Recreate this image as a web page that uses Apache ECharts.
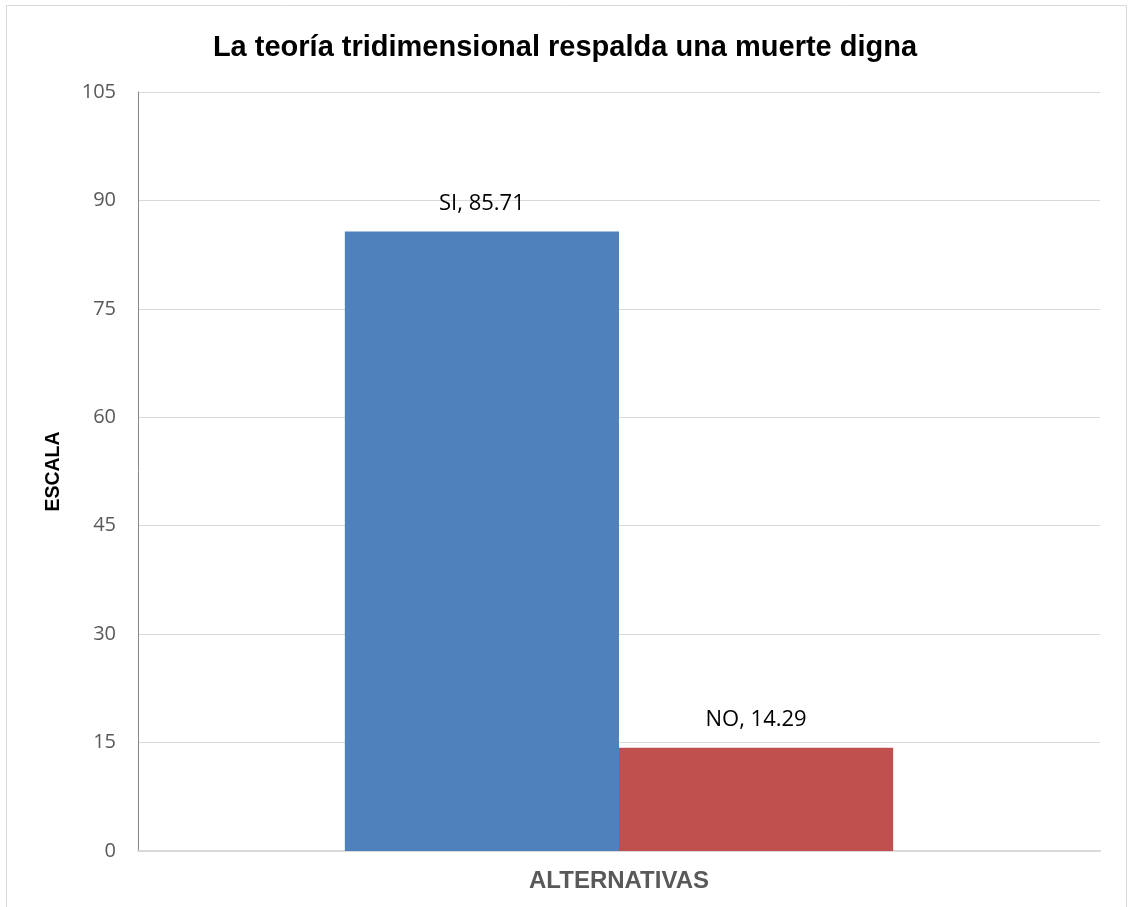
<!DOCTYPE html>
<html>
<head>
<meta charset="UTF-8">
<title>La teoría tridimensional respalda una muerte digna</title>
<script src="https://cdn.jsdelivr.net/npm/echarts@6/dist/echarts.min.js"></script>
<style>
  html, body { margin: 0; padding: 0; background: #fff; }
  #chart { width: 1130px; height: 907px; }
</style>
</head>
<body>
<div id="chart"></div>
<script>
var categories = ['ALTERNATIVAS'];
var seriesNames = ['SI', 'NO'];
var siValues = [85.71];
var noValues = [14.29];
var colors = ['#4F81BD', '#C0504D'];

var chart = echarts.init(document.getElementById('chart'));

var labelStyle = {
  show: true,
  position: 'top',
  distance: 17,
  formatter: '{a}, {c}',
  fontFamily: 'Open Sans',
  fontSize: 22,
  color: '#000'
};

var option = {
  animation: false,
  graphic: [{
    type: 'rect',
    shape: { x: 6.5, y: 5.5, width: 1120, height: 910 },
    style: { fill: 'none', stroke: '#D9D9D9', lineWidth: 1 },
    silent: true
  }],
  title: {
    text: 'La teoría tridimensional respalda una muerte digna',
    left: 'center',
    top: 28,
    textStyle: {
      fontFamily: 'Liberation Sans',
      fontWeight: 'bold',
      fontSize: 29,
      color: '#000'
    }
  },
  grid: { left: 138, right: 30, top: 92, bottom: 56 },
  xAxis: {
    type: 'category',
    data: categories,
    axisLine: { lineStyle: { color: '#D9D9D9', width: 2 } },
    axisTick: { show: false },
    axisLabel: {
      margin: 18,
      fontFamily: 'Liberation Sans',
      fontWeight: 'bold',
      fontSize: 24,
      color: '#595959'
    }
  },
  yAxis: {
    type: 'value',
    min: 0,
    max: 105,
    interval: 15,
    name: 'ESCALA',
    nameLocation: 'middle',
    nameGap: 74,
    nameRotate: 90,
    nameTextStyle: {
      fontFamily: 'Liberation Sans',
      fontWeight: 'bold',
      fontSize: 19.5,
      color: '#000'
    },
    axisLine: { show: true, lineStyle: { color: '#868686', width: 1 } },
    axisTick: { show: false },
    splitLine: { lineStyle: { color: '#D9D9D9', width: 1 } },
    axisLabel: {
      margin: 22,
      fontFamily: 'Open Sans',
      fontSize: 20,
      color: '#595959'
    }
  },
  series: [{
    name: seriesNames[0],
    type: 'bar',
    data: siValues,
    barGap: '0%',
    barCategoryGap: '43%',
    itemStyle: { color: colors[0] },
    label: labelStyle
  }, {
    name: seriesNames[1],
    type: 'bar',
    data: noValues,
    barGap: '0%',
    barCategoryGap: '43%',
    itemStyle: { color: colors[1] },
    label: labelStyle
  }]
};

chart.setOption(option);
</script>
</body>
</html>
